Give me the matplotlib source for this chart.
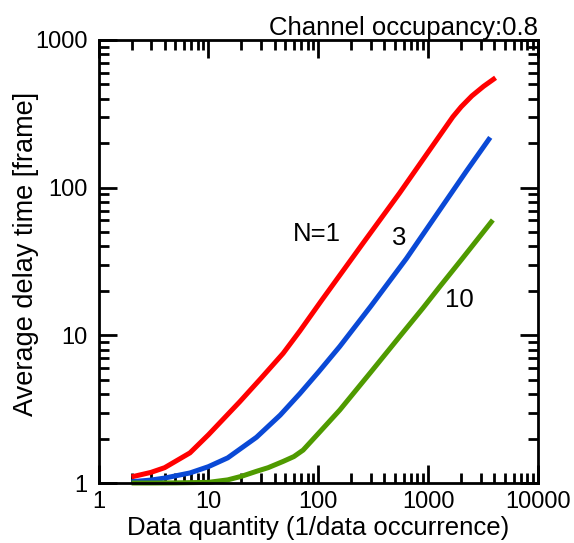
import matplotlib
matplotlib.use("Agg")
import matplotlib.pyplot as plt
from matplotlib.ticker import LogLocator, FixedLocator, FixedFormatter, NullFormatter

plt.rcParams['font.family'] = ['Liberation Sans', 'DejaVu Sans']

# N=1
x_n1 = [2, 3, 4, 6.8, 10, 19.3, 30, 47.9, 68, 107, 255, 550, 1000, 1300, 1680, 2000, 2500, 3200, 4110]
y_n1 = [1.10, 1.18, 1.27, 1.60, 2.12, 3.55, 5.1, 7.55, 10.7, 17.2, 42, 92, 174, 230, 302, 353, 418, 486, 555]
# N=3
x_n3 = [2, 3, 4, 6.8, 10, 15, 27.4, 45, 68, 100, 157, 300, 634, 1200, 2225, 3675]
y_n3 = [1.02, 1.047, 1.08, 1.17, 1.29, 1.48, 2.04, 2.88, 4.03, 5.62, 8.41, 15.7, 33.1, 66.1, 129, 219]
# N=10
x_n10 = [2, 3, 5, 10, 15, 20, 27.4, 35, 47.9, 60, 72.8, 100, 157, 300, 550, 897, 1273, 2000, 3880]
y_n10 = [1.0, 1.0, 1.002, 1.01, 1.05, 1.11, 1.20, 1.27, 1.40, 1.51, 1.67, 2.16, 3.12, 5.62, 9.8, 15.3, 21.3, 32.4, 60.4]

series_labels = ["N=1", "3", "10"]
label_x = [97.5, 541, 1936]
label_y = [48.5, 45.4, 17.3]
colors = ["#ff0000", "#0a49d6", "#4f9a00"]

major_x = [1, 10, 100, 1000, 10000]
major_y = [1, 10, 100, 1000]

fig = plt.figure(figsize=(5.74, 5.43), dpi=100)
ax = fig.add_axes([98.5 / 574, 1 - 483 / 543, (538 - 98.5) / 574, (483 - 40) / 543])

for xs, ys, c in zip([x_n1, x_n3, x_n10], [y_n1, y_n3, y_n10], colors):
    ax.plot(xs, ys, color=c, lw=3.6, solid_capstyle='butt', solid_joinstyle='round', clip_on=False)

for t, lx, ly in zip(series_labels, label_x, label_y):
    ax.text(lx, ly, t, fontsize=18.5, ha='center', va='center')

ax.set_xscale('log')
ax.set_yscale('log')
ax.set_xlim(1, 10000)
ax.set_ylim(1, 1000)

ax.xaxis.set_major_locator(FixedLocator(major_x))
ax.xaxis.set_major_formatter(FixedFormatter([str(v) for v in major_x]))
ax.yaxis.set_major_locator(FixedLocator(major_y))
ax.yaxis.set_major_formatter(FixedFormatter([str(v) for v in major_y]))
ax.xaxis.set_minor_locator(LogLocator(base=10, subs=range(2, 10)))
ax.yaxis.set_minor_locator(LogLocator(base=10, subs=range(2, 10)))
ax.xaxis.set_minor_formatter(NullFormatter())
ax.yaxis.set_minor_formatter(NullFormatter())

ax.tick_params(which='both', direction='in', top=True, right=True, width=2, labelsize=17)
ax.tick_params(which='major', length=13)
ax.tick_params(which='minor', length=7)
ax.tick_params(axis='x', which='major', pad=6)
ax.tick_params(axis='y', which='major', pad=8)
for s in ax.spines.values():
    s.set_linewidth(2)

ax.set_xlabel("Data quantity (1/data occurrence)", fontsize=18.5)
ax.set_ylabel("Average delay time [frame]", fontsize=19.5)
ax.xaxis.set_label_coords(0.5, -0.074)
ax.yaxis.set_label_coords(-0.136, 0.517)
ax.text(1.0, 1.012, "Channel occupancy:0.8", transform=ax.transAxes,
        ha='right', va='baseline', fontsize=18.5)

fig.savefig("out.png", dpi=100)
